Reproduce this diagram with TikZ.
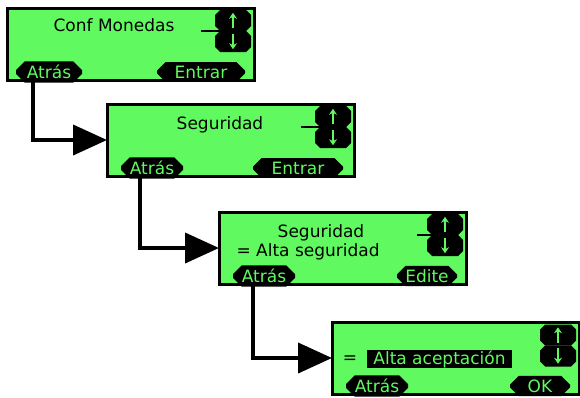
\documentclass[tikz,border=0pt]{standalone}
\usepackage{fontspec}
\setmainfont{DejaVu Sans}
\usetikzlibrary{arrows.meta,shapes.misc}
\definecolor{lcdgreen}{RGB}{96,250,96}
\newcommand\lcdfont{\fontsize{17pt}{18pt}\selectfont}

\begin{document}
\begin{tikzpicture}[x=1pt, y=-1pt, every node/.style={font=\lcdfont},
  lcd/.style={draw=black, line width=3pt, fill=lcdgreen, minimum width=247pt,
    minimum height=72pt, inner sep=0pt, outer sep=0pt},
  key/.style={chamfered rectangle, chamfered rectangle xsep=5pt, fill=black,
    text=lcdgreen, minimum height=16pt, inner sep=0pt},
  updn/.style={key, minimum width=36pt, minimum height=21pt},
  scroll/.style={lcdgreen, line width=1.8pt, -{Stealth[length=6pt,width=8pt]},
    shorten >=3pt, shorten <=3pt},
  flow/.style={line width=4pt, -{Triangle[length=34pt,width=30pt]}}]
\useasboundingbox (0,0) rectangle (580,397);
% --- the four displays ---
\node[lcd] (s1) at (130.5,44) {};
\node[lcd] (s2) at (230.5,140) {};
\node[lcd] (s3) at (342.5,248) {};
\node[lcd] (s4) at (455.5,358) {};
% --- display 1 ---
\begin{scope}[shift={(s1.north west)}]
  \node (s1t) at (107,17) {Conf Monedas};
  \node[updn] (s1up) at (226,12.5) {\strut};
  \node[updn] (s1dn) at (226,33.5) {\strut};
  \draw[line width=1.5pt] (194,23) -- (226,23);
  \node[key, minimum width=66pt] (s1back) at (42,64) {Atrás};
  \node[key, minimum width=88pt] (s1ok) at (194,64) {Entrar};
\end{scope}
% --- display 2 ---
\begin{scope}[shift={(s2.north west)}]
  \node (s2t) at (113,21) {Seguridad};
  \node[updn] (s2up) at (226,12.5) {\strut};
  \node[updn] (s2dn) at (226,33.5) {\strut};
  \draw[line width=1.5pt] (194,23) -- (226,23);
  \node[key, minimum width=62pt] (s2back) at (45,64) {Atrás};
  \node[key, minimum width=90pt] (s2ok) at (191,64) {Entrar};
\end{scope}
% --- display 3 ---
\begin{scope}[shift={(s3.north west)}]
  \node (s3t) at (102,21) {Seguridad};
  \node[anchor=west] (s3v) at (14,40) {= Alta seguridad};
  \node[updn] (s3up) at (226,12.5) {\strut};
  \node[updn] (s3dn) at (226,33.5) {\strut};
  \draw[line width=1.5pt] (198,23) -- (226,23);
  \node[key, minimum width=62pt] (s3back) at (45,64) {Atrás};
  \node[key, minimum width=60pt] (s3ok) at (208,64) {Edite};
\end{scope}
% --- display 4 ---
\begin{scope}[shift={(s4.north west)}]
  \node (s4eq) at (18,38) {=};
  \node[fill=black, text=lcdgreen, minimum width=145pt, minimum height=18pt,
    inner sep=0pt] (s4v) at (107.5,37) {Alta aceptación};
  \node[updn] (s4up) at (226,13) {\strut};
  \node[updn] (s4dn) at (226,34) {\strut};
  \node[key, minimum width=62pt] (s4back) at (45,64) {Atrás};
  \node[key, minimum width=60pt] (s4ok) at (208,64) {OK};
\end{scope}
% --- scroll arrows in the side keys ---
\foreach \s in {s1,s2,s3,s4} {
  \draw[scroll] (\s up.south) -- (\s up.north);
  \draw[scroll] (\s dn.north) -- (\s dn.south);
}
% --- Atras of one display leads into the next ---
\draw[flow] ([xshift=26pt]s1.south west) |- (s2.west);
\draw[flow] ([xshift=33pt]s2.south west) |- (s3.west);
\draw[flow] ([xshift=34pt]s3.south west) |- (s4.west);
\end{tikzpicture}
\end{document}
